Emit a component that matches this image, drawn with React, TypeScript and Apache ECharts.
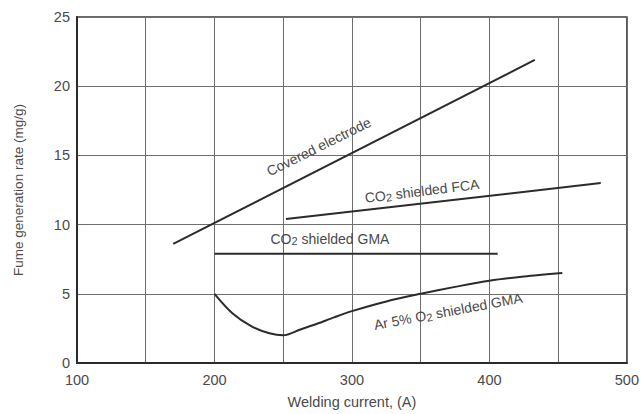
import React, { useEffect, useRef } from "react";
import * as echarts from "echarts";

const xTicks = [100, 200, 300, 400, 500];
const yTicks = [0, 5, 10, 15, 20, 25];

const coveredX = [170, 433];
const coveredY = [8.6, 21.9];
const fcaX = [252, 481];
const fcaY = [10.4, 13.0];
const gmaX = [200, 406];
const gmaY = [7.9, 7.9];
const arX = [200, 213, 227, 240, 250, 262, 275, 287, 300, 325, 350, 375, 400, 425, 453];
const arY = [5.0, 3.6, 2.65, 2.15, 2.0, 2.4, 2.85, 3.3, 3.75, 4.45, 5.0, 5.5, 5.95, 6.25, 6.5];

const labelNames = ["Covered electrode", "CO2 shielded FCA", "CO2 shielded GMA", "Ar 5% O2 shielded GMA"];
const labelX = [276, 351, 284, 370];
const labelY = [15.6, 12.4, 8.95, 3.7];
const labelAngle = [26.5, 7, 0, 10.5];

const zip = (xs: number[], ys: number[]) => xs.map((x, i) => [x, ys[i]]);

const FONT = "'Liberation Sans', Arial, sans-serif";
const TXT = "#4a4a4a";
const LINE = "#2b2b2b";

function richFor(name: string) {
  return name
    .split(/(O2)/)
    .filter((s) => s.length > 0)
    .map((s) => (s === "O2" ? "{a|O}{s|2}" : `{a|${s}}`))
    .join("");
}

export default function App() {
  const ref = useRef<HTMLDivElement>(null);
  useEffect(() => {
    if (!ref.current) return;
    const chart = echarts.init(ref.current, undefined, { renderer: "svg" });
    const lineStyle = { color: LINE, width: 2 };
    const mk = (name: string, data: number[][], smooth: number | boolean = false) => ({
      type: "line",
      name,
      data,
      smooth,
      symbol: "none",
      lineStyle,
    });
    chart.setOption({
      animation: false,
      backgroundColor: "#ffffff",
      grid: {
        left: 77,
        right: 11,
        top: 17,
        bottom: 47,
        show: true,
        borderColor: "#3a3a3a",
        borderWidth: 1.5,
      },
      xAxis: {
        type: "value",
        min: xTicks[0],
        max: xTicks[xTicks.length - 1],
        interval: 50,
        name: "Welding current, (A)",
        nameLocation: "middle",
        nameGap: 31,
        nameTextStyle: { color: TXT, fontSize: 14.5, fontFamily: FONT },
        axisLine: { show: true, lineStyle: { color: "#2b2b2b", width: 2 } },
        axisTick: { show: false },
        axisLabel: {
          color: TXT,
          fontSize: 14.5,
          fontFamily: FONT,
          margin: 9,
          formatter: (v: number) => (xTicks.includes(v) ? String(v) : ""),
        },
        splitLine: { show: true, lineStyle: { color: "#6e6e6e", width: 1 } },
      },
      yAxis: {
        type: "value",
        min: yTicks[0],
        max: yTicks[yTicks.length - 1],
        interval: 5,
        name: "Fume generation rate (mg/g)",
        nameLocation: "middle",
        nameGap: 52,
        nameTextStyle: { color: TXT, fontSize: 13.5, fontFamily: FONT },
        axisLine: { show: true, lineStyle: { color: "#2b2b2b", width: 2 } },
        axisTick: { show: false },
        axisLabel: { color: TXT, fontSize: 14.5, fontFamily: FONT, margin: 7 },
        splitLine: { show: true, lineStyle: { color: "#6e6e6e", width: 1 } },
      },
      series: [
        mk("Covered electrode", zip(coveredX, coveredY)),
        mk("CO2 shielded FCA", zip(fcaX, fcaY)),
        mk("CO2 shielded GMA", zip(gmaX, gmaY)),
        mk("Ar 5% O2 shielded GMA", zip(arX, arY), 0.3),
      ],
    });

    const graphics = labelNames.map((name, i) => {
      const p = chart.convertToPixel({ xAxisIndex: 0, yAxisIndex: 0 }, [labelX[i], labelY[i]]) as number[];
      return {
        type: "text",
        x: p[0],
        y: p[1],
        rotation: (labelAngle[i] * Math.PI) / 180,
        z: 10,
        style: {
          text: richFor(name),
          align: "center",
          verticalAlign: "middle",
          fill: TXT,
          font: `14px ${FONT}`,
          rich: {
            a: { fontSize: 14, fontFamily: FONT, fill: TXT, lineHeight: 15, verticalAlign: "top" },
            s: {
              fontSize: 11,
              fontFamily: FONT,
              fill: TXT,
              lineHeight: 11,
              verticalAlign: "bottom",
              padding: [8, 0, 0, 0],
            },
          },
        },
      };
    });
    chart.setOption({ graphic: graphics });

    return () => chart.dispose();
  }, []);
  return (
    <div
      ref={ref}
      style={{ position: "fixed", left: 0, top: 0, width: 642, height: 414, background: "#fff" }}
    />
  );
}
